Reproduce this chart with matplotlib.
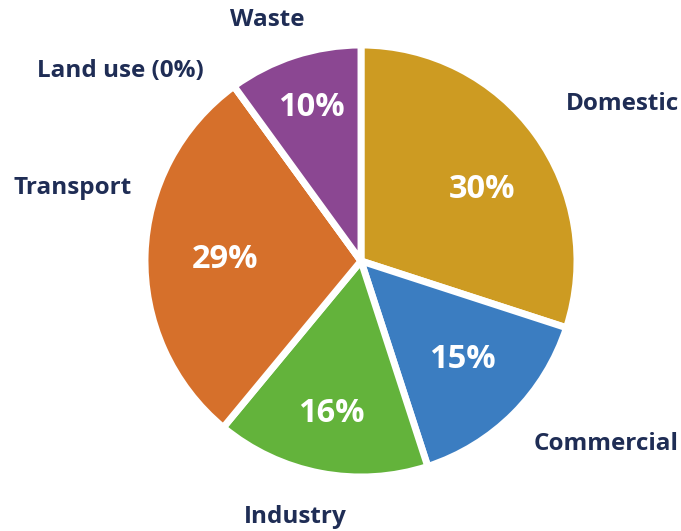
import matplotlib
matplotlib.use("Agg")
import matplotlib.pyplot as plt

categories = ["Domestic", "Commercial", "Industry", "Transport", "Land use", "Waste"]
values = [30, 15, 16, 29, 0, 10]
colors = ["#CD9B22", "#3B7DC1", "#63B33B", "#D6702B", "#999999", "#8B4792"]

# label positions in pixel coords (layout only)
label_px = {"Domestic": (622, 104), "Commercial": (606, 444), "Industry": (295, 517),
            "Transport": (73, 188), "Land use": (120, 71), "Waste": (267, 20)}
pct_px = {"Domestic": (482, 190), "Commercial": (462, 360), "Industry": (331, 413),
          "Transport": (225, 259), "Waste": (311, 107)}

W, H = 681, 531
cx, cy, R = 361, 261, 216

def to_data(p):
    return ((p[0] - cx) / R, (cy - p[1]) / R)

plt.rcParams['font.family'] = ['Open Sans', 'DejaVu Sans']
fig = plt.figure(figsize=(W / 100, H / 100), dpi=100)
ax = fig.add_axes([0, 0, 1, 1])

labels = [f"{c} (0%)" if v == 0 else c for c, v in zip(categories, values)]
wedges, texts = ax.pie(values, labels=labels, colors=colors, startangle=90, counterclock=False,
                       wedgeprops=dict(edgecolor="white", linewidth=5),
                       textprops=dict(color="#1F2D55", fontsize=17.5, fontweight="bold"))
for c, t in zip(categories, texts):
    t.set_position(to_data(label_px[c]))
    t.set_ha("center"); t.set_va("center")

for c, v in zip(categories, values):
    if v > 0:
        ax.text(*to_data(pct_px[c]), f"{v}%", color="white", fontsize=23.5, fontweight="bold",
                ha="center", va="center")

ax.set_aspect("auto")
ax.set_xlim(-cx / R, (W - cx) / R)
ax.set_ylim((cy - H) / R, cy / R)
ax.axis("off")
fig.savefig("out.png", dpi=100)
